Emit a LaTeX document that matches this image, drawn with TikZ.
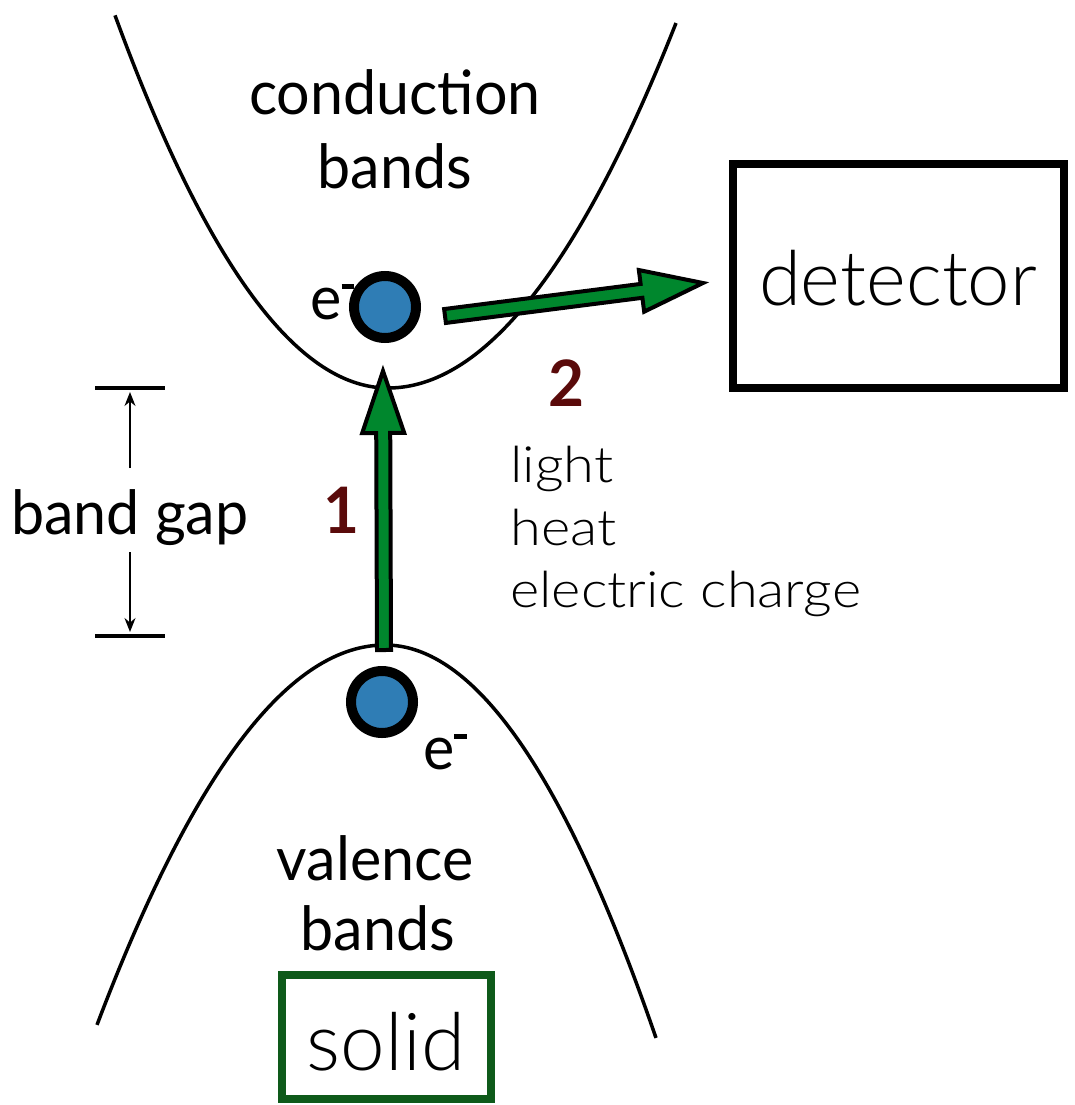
\documentclass[tikz,border=0pt]{standalone}
\usepackage{fontspec}
\setmainfont{Lato}[FakeStretch=0.97]
\newfontfamily\lightfont{Lato Light}
\newfontfamily\lightwide{Lato Light}[FakeStretch=1.12]
\usetikzlibrary{calc,arrows.meta,shadows}
\definecolor{arrowgreen}{RGB}{0,135,45}
\definecolor{boxgreen}{RGB}{14,90,26}
\definecolor{eblue}{RGB}{47,125,181}
\definecolor{numred}{RGB}{90,10,10}
\tikzset{
  band/.style={line width=3.5pt},
  gill/.style={font=\fontsize{61}{70}\selectfont, inner sep=0pt},
  helv/.style={font=\lightwide\fontsize{50}{62}\selectfont, inner sep=0pt, anchor=base west},
  bigthin/.style={font=\lightfont\fontsize{76}{84}\selectfont, inner sep=0pt, anchor=base},
  num/.style={font=\bfseries\fontsize{64}{66}\selectfont, text=numred, inner sep=0pt},
  electron/.style={circle, draw=black, line width=10pt, fill=eblue, minimum size=62pt, inner sep=0pt,
    drop shadow={shadow xshift=0pt, shadow yshift=-3pt, opacity=0.25}},
  fatarrow/.style={draw=black, line width=4pt, fill=arrowgreen, line join=miter},
  gapbar/.style={line width=3.5pt},
  gaparrow/.style={line width=1.6pt, -{Stealth[length=14pt,width=11pt]}},
  framebox/.style={draw, line width=8pt, inner sep=0pt},
}
\newcommand{\fatarrowpath}[2]{%
  \coordinate (hb) at ($(#2)!62pt!(#1)$);
  \draw[fatarrow] ($(#1)!7pt!90:(#2)$) -- ($(hb)!7pt!90:(#2)$) -- ($(hb)!21pt!90:(#2)$) -- (#2)
    -- ($(hb)!21pt!-90:(#2)$) -- ($(hb)!7pt!-90:(#2)$) -- ($(#1)!7pt!-90:(#2)$) -- cycle;}
\newcommand{\eminus}{e\raisebox{0.5em}{\rule{0.2em}{0.08em}}}
\begin{document}
\begin{tikzpicture}[x=1pt,y=-1pt]
\useasboundingbox (0,0) rectangle (1075,1105);
% conduction band
\draw[band] plot[domain=115:388, samples=60, smooth] (\x,{388-0.5*((\x-388)/10)^2})
  -- plot[domain=388:676, samples=60, smooth] (\x,{388-0.44*((\x-388)/10)^2});
% valence band
\draw[band] plot[domain=97:385, samples=60, smooth] (\x,{645+0.458*((\x-385)/10)^2})
  -- plot[domain=385:656, samples=60, smooth] (\x,{645+0.535*((\x-385)/10)^2});
% labels
\node[gill] (cond1) at (395,92) {conduction};
\node[gill] (cond2) at (395,166) {bands};
\node[gill] (val1) at (375,858) {valence};
\node[gill] (val2) at (378,928) {bands};
\node[gill] (gap) at (130,518) {band gap};
% band gap markers
\coordinate (gtl) at (95,388); \coordinate (gtr) at (165,388);
\coordinate (gbl) at (95,636); \coordinate (gbr) at (165,636);
\draw[gapbar] (gtl) -- (gtr);
\draw[gapbar] (gbl) -- (gbr);
\coordinate (gt) at (130,392); \coordinate (gb) at (130,632);
\coordinate (gtt) at (130,468); \coordinate (gbt) at (130,552);
\draw[gaparrow] (gtt) -- (gt);
\draw[gaparrow] (gbt) -- (gb);
% electrons
\node[electron] (eup) at (385,307) {};
\node[electron] (edown) at (382,702) {};
\node[gill, anchor=base east] (eupl) at (354,319) {\eminus};
\node[gill, anchor=base west] (edownl) at (423,769) {\eminus};
% arrows
\coordinate (a1s) at (384,650); \coordinate (a1e) at (383,371);
\fatarrowpath{a1s}{a1e}
\coordinate (a2s) at (445,316); \coordinate (a2e) at (703,283);
\fatarrowpath{a2s}{a2e}
% numbers
\node[num] (n1) at (341,510) {1};
\node[num] (n2) at (566,383) {2};
% mechanisms
\node[helv] (m1) at (510,482) {light};
\node[helv] (m2) at (510,545) {heat};
\node[helv] (m3) at (510,607) {electric charge};
% detector
\node[framebox, minimum width=331pt, minimum height=224pt] (det) at (898.5,276) {};
\node[bigthin] (dett) at (898,305) {detector};
% solid
\node[framebox, draw=boxgreen, minimum width=209pt, minimum height=124pt] (sol) at (386.5,1037) {};
\node[bigthin, font=\lightfont\fontsize{80}{84}\selectfont] (solt) at (386,1070) {solid};
\end{tikzpicture}
\end{document}
